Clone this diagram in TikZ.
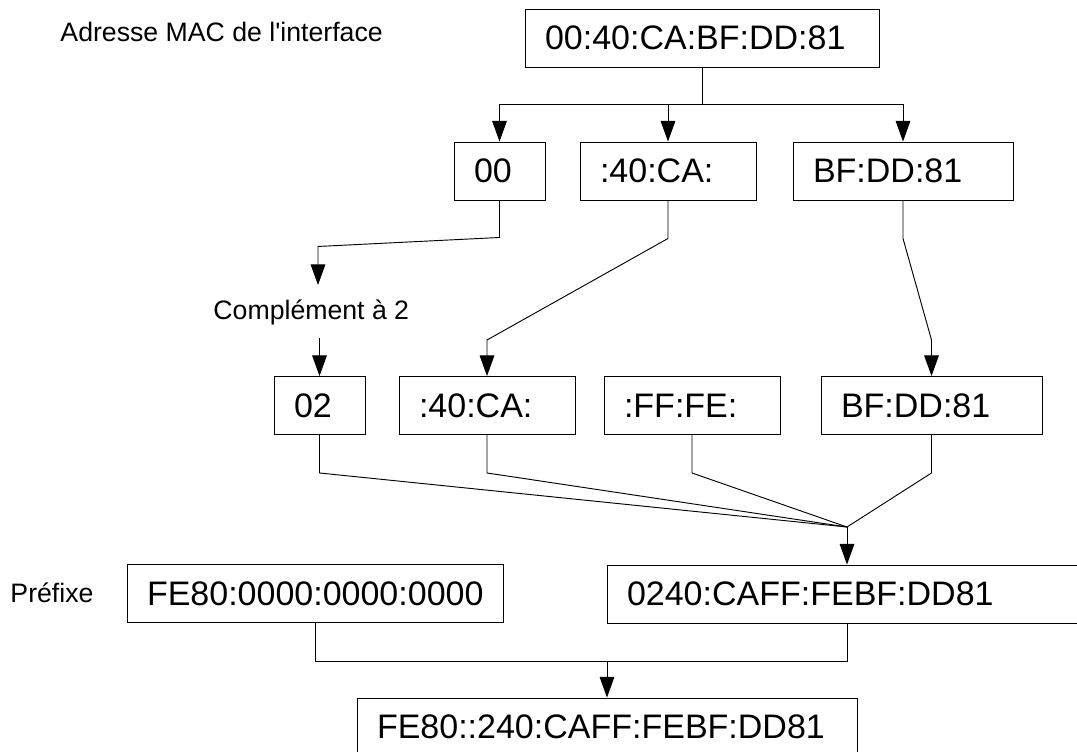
\documentclass[tikz,border=0pt]{standalone}
\usepackage{fontspec}
\setmainfont{Liberation Sans}
\usepackage{tikz}
\usetikzlibrary{arrows.meta}

\begin{document}
\begin{tikzpicture}[x=0.75pt,y=-0.75pt,line width=0.7pt,
    >={Triangle[length=15.5pt,width=11pt]},
    addr/.style={draw,align=left,inner xsep=15pt,inner ysep=0pt,
      minimum height=43.5pt,font=\fontsize{25.5}{30}\selectfont},
    lbl/.style={inner sep=0pt,font=\fontsize{20}{24}\selectfont}]
			\useasboundingbox (0,0) rectangle (1077,751);
			% adresse de depart
			\node[lbl,anchor=base west] (maclbl) at (60,41) {Adresse MAC de l\textquotesingle interface};
			\node[addr,text width=235.5pt] (mac) at (702,38) {00:40:CA:BF:DD:81};
			% decoupage
			\node[addr,text width=38.25pt] (b00) at (499.5,171) {00};
			\node[addr,text width=102pt] (b40) at (668,171) {:40:CA:};
			\node[addr,text width=135pt] (bbf) at (903,171) {BF:DD:81};
			\draw (mac.south) -- ++(0,37) coordinate (split);
			\draw[->] (split) -| (b00.north);
			\draw[->] (split) -| (b40.north);
			\draw[->] (split) -| (bbf.north);
			% complement et insertion de FF:FE
			\node[lbl,anchor=base west] (comp) at (213,319) {Complément à 2};
			\coordinate (c2in) at (318,285);
			\coordinate (c2out) at (319.5,338);
			\node[addr,text width=38.25pt] (c02) at (319.5,405.5) {02};
			\node[addr,text width=102pt] (c40) at (487,405.5) {:40:CA:};
			\node[addr,text width=102pt] (cff) at (692,405.5) {:FF:FE:};
			\node[addr,text width=135.75pt] (cbf) at (931.5,405.5) {BF:DD:81};
			\draw[->] (b00.south) -- ++(0,37) -- ++(-181.5,9) -- (c2in);
			\draw[->] (c2out) -- (c02.north);
			\draw[->] (b40.south) -- ++(0,38) -- (487,340) -- (c40.north);
			\draw[->] (bbf.south) -- ++(0,38) -- (931.5,340) -- (cbf.north);
			% identifiant d'interface
			\node[lbl,anchor=base west] (prelbl) at (10,602) {Préfixe};
			\node[addr,text width=252pt] (pre) at (315,593.5) {FE80:0000:0000:0000};
			\node[addr,text width=330pt] (iid) at (847,594) {0240:CAFF:FEBF:DD81};
			\coordinate (join) at (847,527);
			\foreach \n in {c02,c40,cff,cbf}
				\draw (\n.south) -- ++(0,38) -- (join);
			\draw[->] (join) -- (iid.north);
			% adresse lien local
			\node[addr,text width=345pt] (res) at (607,727) {FE80::240:CAFF:FEBF:DD81};
			\draw (pre.south) -- ++(0,38) coordinate (low) -| (iid.south);
			\draw[->] (res.north |- low) -- (res.north);
		\end{tikzpicture}
\end{document}
